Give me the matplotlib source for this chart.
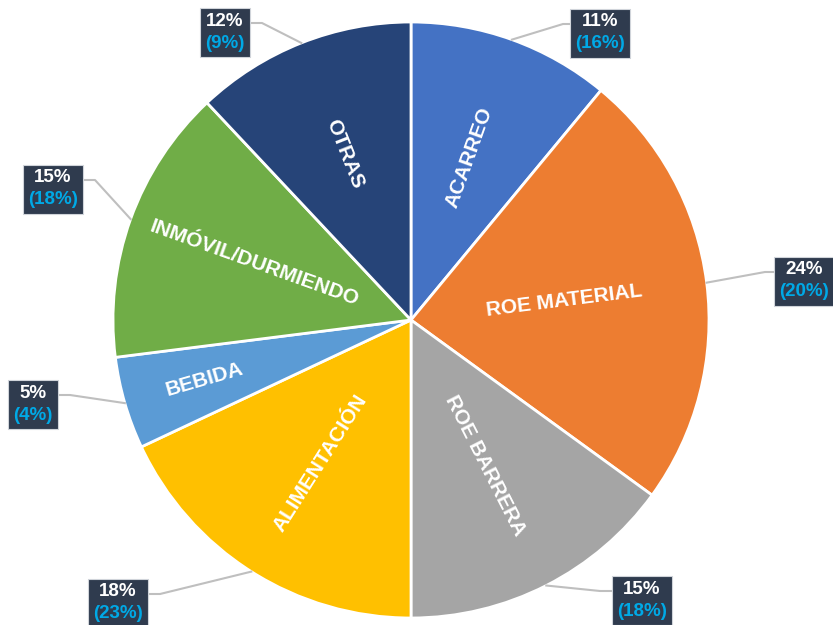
import numpy as np
import matplotlib
matplotlib.use("Agg")
import matplotlib.pyplot as plt
from matplotlib.patches import Rectangle

# slice data, clockwise from 12 o'clock
categories = ["ACARREO", "ROE MATERIAL", "ROE BARRERA", "ALIMENTACIÓN",
              "BEBIDA", "INMÓVIL/DURMIENDO", "OTRAS"]
shares = [11, 24, 15, 18, 5, 15, 12]
previous = [16, 20, 18, 23, 4, 18, 9]
colors = ["#4472C4", "#ED7D31", "#A5A5A5", "#FFC000",
          "#5B9BD5", "#70AD47", "#264478"]

# layout (pixel coords, y measured from top)
W, H = 833, 625
cx, cy, R = 411, 320, 298
inner_r = [0.58, 0.52, 0.55, 0.57, 0.72, 0.56, 0.60]
box_centers = [(600, 33), (804, 281), (642, 600), (118, 603),
               (33, 404), (53, 189), (225, 32)]
elbow_x = [563, 765, 600, 160, 70, 95, 262]

plt.rcParams["font.family"] = ["Liberation Sans", "DejaVu Sans"]
fig = plt.figure(figsize=(W / 100, H / 100), dpi=100)
ax = fig.add_axes([0, 0, 1, 1])

ax.pie(shares, colors=colors, startangle=90, counterclock=False,
       center=(cx, H - cy), radius=R,
       wedgeprops=dict(edgecolor="white", linewidth=2))
ax.set_xlim(0, W)
ax.set_ylim(0, H)
ax.set_aspect("equal")
ax.axis("off")

box_color = "#2F3B4E"
line_color = "#BFBFBF"

start = 90.0
for i, name in enumerate(categories):
    span = shares[i] / sum(shares) * 360
    mid = start - span / 2
    start -= span
    rad = np.deg2rad(mid)

    # name inside the slice, rotated along the radius
    r_in = R * inner_r[i]
    tx, ty = cx + r_in * np.cos(rad), H - cy + r_in * np.sin(rad)
    rot = mid
    while rot > 90:
        rot -= 180
    while rot < -90:
        rot += 180
    ax.text(tx, ty, name, color="white", fontsize=15, fontweight="bold",
            rotation=rot, rotation_mode="anchor", ha="center", va="center")

    # value box
    bx, by = box_centers[i]
    by = H - by
    t1 = ax.text(bx, by + 11, f"{shares[i]}%", color="white", fontsize=13.5,
                 fontweight="bold", ha="center", va="center", zorder=5)
    t2 = ax.text(bx, by - 11, f"({previous[i]}%)", color="#00A9E6", fontsize=13.5,
                 fontweight="bold", ha="center", va="center", zorder=5)
    fig.canvas.draw()
    rend = fig.canvas.get_renderer()
    tw = max(t1.get_window_extent(rend).width, t2.get_window_extent(rend).width)
    bw, bh = tw + 10, 49
    ax.add_patch(Rectangle((bx - bw / 2, by - bh / 2), bw, bh,
                           facecolor=box_color, edgecolor="#D0D4DA",
                           linewidth=0.8, zorder=4))

    # leader line from slice edge to the box
    px, py = cx + R * np.cos(rad), H - cy + R * np.sin(rad)
    ly = by + 9
    side = bx - bw / 2 if bx > cx else bx + bw / 2
    ax.plot([px, elbow_x[i], side], [py, ly, ly], color=line_color,
            linewidth=1.5, zorder=3)

fig.savefig("out.png", dpi=100)
